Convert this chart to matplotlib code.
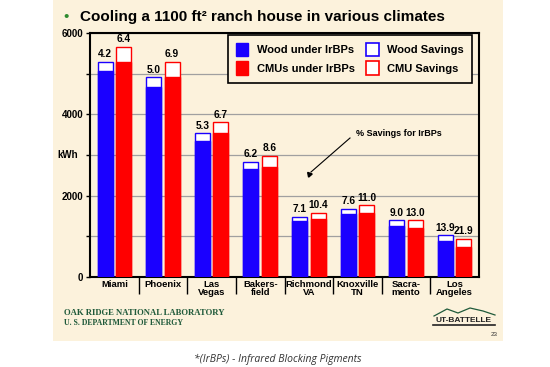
import numpy as np
import matplotlib
matplotlib.use("Agg")
import matplotlib.pyplot as plt
from matplotlib.patches import Rectangle
from matplotlib.lines import Line2D

# dati (kWh prima degli IrBP e % di risparmio)
cities = ["Miami", "Phoenix", "Las\nVegas", "Bakers-\nfield", "Richmond\nVA",
          "Knoxville\nTN", "Sacra-\nmento", "Los\nAngeles"]
wood_total = [5290, 4910, 3530, 2840, 1480, 1680, 1390, 1025]
cmu_total = [5655, 5290, 3800, 2970, 1580, 1760, 1390, 935]
wood_pct = [4.2, 5.0, 5.3, 6.2, 7.1, 7.6, 9.0, 13.9]
cmu_pct = [6.4, 6.9, 6.7, 8.6, 10.4, 11.0, 13.0, 21.9]

BLUE = "#1a00ff"
RED = "#ff0000"
CREAM = "#fcf2dc"
W, H = 550, 367

plt.rcParams['font.family'] = ['Liberation Sans', 'DejaVu Sans']
fig = plt.figure(figsize=(5.5, 3.67), dpi=100)
fig.patch.set_facecolor("white")

# sfondo della slide
fig.add_artist(Rectangle((52.5 / W, 1 - 341 / H), 450.5 / W, 341 / H,
                         transform=fig.transFigure, facecolor=CREAM,
                         edgecolor="none", zorder=-10))

ax = fig.add_axes([90 / W, 1 - 277 / H, 389 / W, 244 / H])
ax.set_facecolor(CREAM)

x = np.arange(len(cities))
bw = 0.31
off = 0.19
lw = 1.0
wood_under = [t * (1 - p / 100) for t, p in zip(wood_total, wood_pct)]
cmu_under = [t * (1 - p / 100) for t, p in zip(cmu_total, cmu_pct)]

ax.bar(x - off, wood_total, bw, color="white", edgecolor=BLUE, linewidth=lw, zorder=3)
ax.bar(x - off, wood_under, bw, color=BLUE, edgecolor=BLUE, linewidth=lw, zorder=3)
ax.bar(x + off, cmu_total, bw, color="white", edgecolor=RED, linewidth=lw, zorder=3)
ax.bar(x + off, cmu_under, bw, color=RED, edgecolor=RED, linewidth=lw, zorder=3)

for i in range(len(cities)):
    ax.annotate(f"{wood_pct[i]:.1f}", (x[i] - off, wood_total[i]), xytext=(0, 2),
                textcoords="offset points", ha="center", va="bottom",
                fontsize=7.3, fontweight="bold")
    ax.annotate(f"{cmu_pct[i]:.1f}", (x[i] + off, cmu_total[i]), xytext=(0, 2),
                textcoords="offset points", ha="center", va="bottom",
                fontsize=7.3, fontweight="bold")

ax.set_xlim(-0.5, len(cities) - 0.5)
ax.set_ylim(0, 6000)
ax.set_yticks([0, 2000, 4000, 6000])
ax.set_yticks([1000, 3000, 5000], minor=True)
ax.set_yticklabels(["0", "2000", "4000", "6000"], fontsize=7, fontweight="bold")
ax.tick_params(axis="y", which="both", direction="out", length=3, width=1, pad=2)
ax.set_xticks(x)
ax.set_xticklabels(cities, fontsize=6.8, fontweight="bold", linespacing=0.95)
ax.set_xticks(np.arange(0.5, len(cities) - 0.5, 1), minor=True)
ax.tick_params(axis="x", which="major", length=0, pad=2)
ax.tick_params(axis="x", which="minor", length=12, width=1, direction="out")
ax.grid(axis="y", which="both", color="#a0a0a0", linewidth=0.9, zorder=0)
ax.set_axisbelow(True)
for s in ax.spines.values():
    s.set_linewidth(1.5)

fig.text(57 / W, 1 - 155 / H, "kWh", fontsize=7, fontweight="bold", va="center")

# legenda
handles = [Rectangle((0, 0), 1, 1, facecolor=BLUE, edgecolor=BLUE),
           Rectangle((0, 0), 1, 1, facecolor=RED, edgecolor=RED),
           Rectangle((0, 0), 1, 1, facecolor="white", edgecolor=BLUE, linewidth=1.2),
           Rectangle((0, 0), 1, 1, facecolor="white", edgecolor=RED, linewidth=1.2)]
labels = ["Wood under IrBPs", "CMUs under IrBPs", "Wood Savings", "CMU Savings"]
leg = ax.legend(handles, labels, ncol=2, loc="upper right", bbox_to_anchor=(0.982, 0.992),
                prop={"size": 8, "weight": "bold"}, frameon=True, fancybox=False,
                handlelength=1.1, handleheight=1.5, columnspacing=1.0,
                handletextpad=0.8, borderpad=0.7, labelspacing=0.45, borderaxespad=0)
leg.get_frame().set_edgecolor("black")
leg.get_frame().set_linewidth(1.2)
leg.get_frame().set_facecolor(CREAM)
leg.get_frame().set_alpha(1)
leg.set_zorder(5)

fig.text(356 / W, 1 - 133 / H, "% Savings for IrBPs", fontsize=6.5,
         fontweight="bold", va="center", ha="left")
fig.add_artist(Line2D([350 / W, 311 / W], [1 - 138 / H, 1 - 172 / H], color="black", lw=0.8))
fig.add_artist(Line2D([309 / W], [1 - 174 / H], marker=(3, 0, 41), markersize=4,
                      color="black", linestyle="none"))

# titolo
fig.text(63 / W, 1 - 17 / H, "\u2022", color="#2e8b2e", fontsize=11, va="center")
fig.text(80 / W, 1 - 17 / H, "Cooling a 1100 ft\u00b2 ranch house in various climates",
         fontsize=11, fontweight="bold", va="center")

# piè di pagina
fig.text(64 / W, 1 - 313 / H, "OAK RIDGE NATIONAL LABORATORY", family="Liberation Serif",
         fontsize=6.2, fontweight="bold", color="#1f5a3a", va="center")
fig.text(64 / W, 1 - 323 / H, "U. S. DEPARTMENT OF ENERGY", family="Liberation Serif",
         fontsize=5.6, fontweight="bold", color="#1f5a3a", va="center")
fig.text(464 / W, 1 - 320 / H, "UT-BATTELLE", fontsize=6, fontweight="bold",
         ha="center", va="center", color="#222222")
fig.add_artist(Line2D([433 / W, 495 / W], [1 - 325 / H, 1 - 325 / H], color="#222222", lw=1.2))
fig.add_artist(Line2D(np.array([434, 447, 458, 470, 483, 495]) / W,
                      1 - np.array([316, 309, 313, 308, 311, 315]) / H,
                      color="#1f5a3a", lw=0.9))
fig.text(498 / W, 1 - 335 / H, "23", fontsize=4.5, ha="right", va="center", color="#333333")

fig.text(278 / W, 1 - 359 / H, "*(IrBPs) - Infrared Blocking Pigments", family="Open Sans",
         style="italic", fontsize=7.5, ha="center", va="center", color="#333333")

fig.savefig("out.png", dpi=100, facecolor=fig.get_facecolor())
